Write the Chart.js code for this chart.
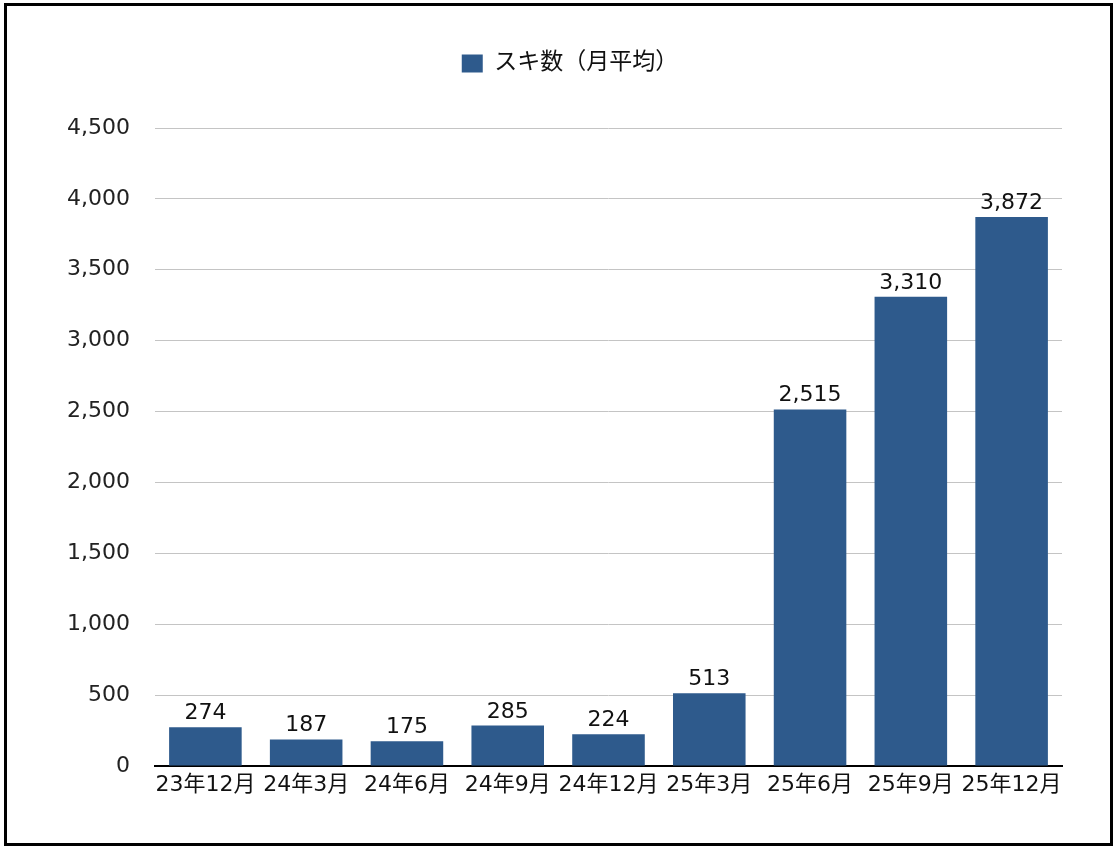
<!DOCTYPE html>
<html><head><meta charset="utf-8">
<script src="https://cdn.jsdelivr.net/npm/chart.js@4"></script>
<style>
html,body{margin:0;padding:0;background:#fff;}
#wrap{position:absolute;left:0;top:0;width:1118px;height:850px;}
#frame{position:absolute;left:4px;top:3px;width:1103px;height:837px;border:3px solid #000;pointer-events:none;}
</style></head>
<body>
<div id="wrap"><canvas id="c" width="1118" height="850"></canvas></div>
<div id="frame"></div>
<script>
const categories = ['23年12月','24年3月','24年6月','24年9月','24年12月','25年3月','25年6月','25年9月','25年12月'];
const seriesName = 'スキ数（月平均）';
const values = [274, 187, 175, 285, 224, 513, 2515, 3310, 3872];
const yMax = 4500;
const yStep = 500;

const FONT = '"DejaVu Sans", "Noto Sans CJK JP", sans-serif';

const valueLabels = {
  id: 'valueLabels',
  afterDatasetsDraw(chart) {
    const ctx = chart.ctx;
    const meta = chart.getDatasetMeta(0);
    ctx.save();
    ctx.font = '22px ' + FONT;
    ctx.fillStyle = '#111';
    ctx.textAlign = 'center';
    ctx.textBaseline = 'alphabetic';
    meta.data.forEach((bar, i) => {
      ctx.fillText(values[i].toLocaleString('en-US'), bar.x, bar.y - 8);
    });
    ctx.restore();
  }
};

const legendSpace = {
  id: 'legendSpace',
  afterInit(chart) {
    const lg = chart.legend;
    if (lg && !lg._patched) {
      const orig = lg.fit.bind(lg);
      lg.fit = function () { orig(); this.height += 43; };
      lg._patched = true;
    }
  },
  afterLayout(chart) {
    const lg = chart.legend;
    if (lg) { lg.left += 9; lg.right += 9; }
  }
};

new Chart(document.getElementById('c'), {
  type: 'bar',
  data: {
    labels: categories,
    datasets: [{
      label: seriesName,
      data: values,
      backgroundColor: '#2e5a8c',
      borderWidth: 0,
      barPercentage: 0.72,
      categoryPercentage: 1.0
    }]
  },
  options: {
    responsive: false,
    animation: false,
    devicePixelRatio: 1,
    layout: { padding: { left: 60, right: 56, top: 12, bottom: 34 } },
    plugins: {
      legend: {
        position: 'top',
        labels: {
          boxWidth: 21, boxHeight: 18, padding: 40,
          color: '#111',
          font: { family: FONT, size: 23 }
        }
      },
      tooltip: { enabled: false }
    },
    scales: {
      x: {
        grid: { display: false, drawTicks: false },
        border: { display: true, color: '#000', width: 2 },
        ticks: { color: '#111', font: { family: FONT, size: 22 }, padding: 6, maxRotation: 0, autoSkip: false },
        afterFit(s) { s.height = 50; }
      },
      y: {
        min: 0, max: yMax,
        grid: { color: '#c4c4c4', lineWidth: 1, drawTicks: false },
        border: { display: false },
        ticks: {
          stepSize: yStep, color: '#222', padding: 25,
          font: { family: FONT, size: 22 },
          callback: v => v.toLocaleString('en-US')
        },
        afterFit(s) { s.width = 95; }
      }
    }
  },
  plugins: [valueLabels, legendSpace]
});
</script>
</body></html>
